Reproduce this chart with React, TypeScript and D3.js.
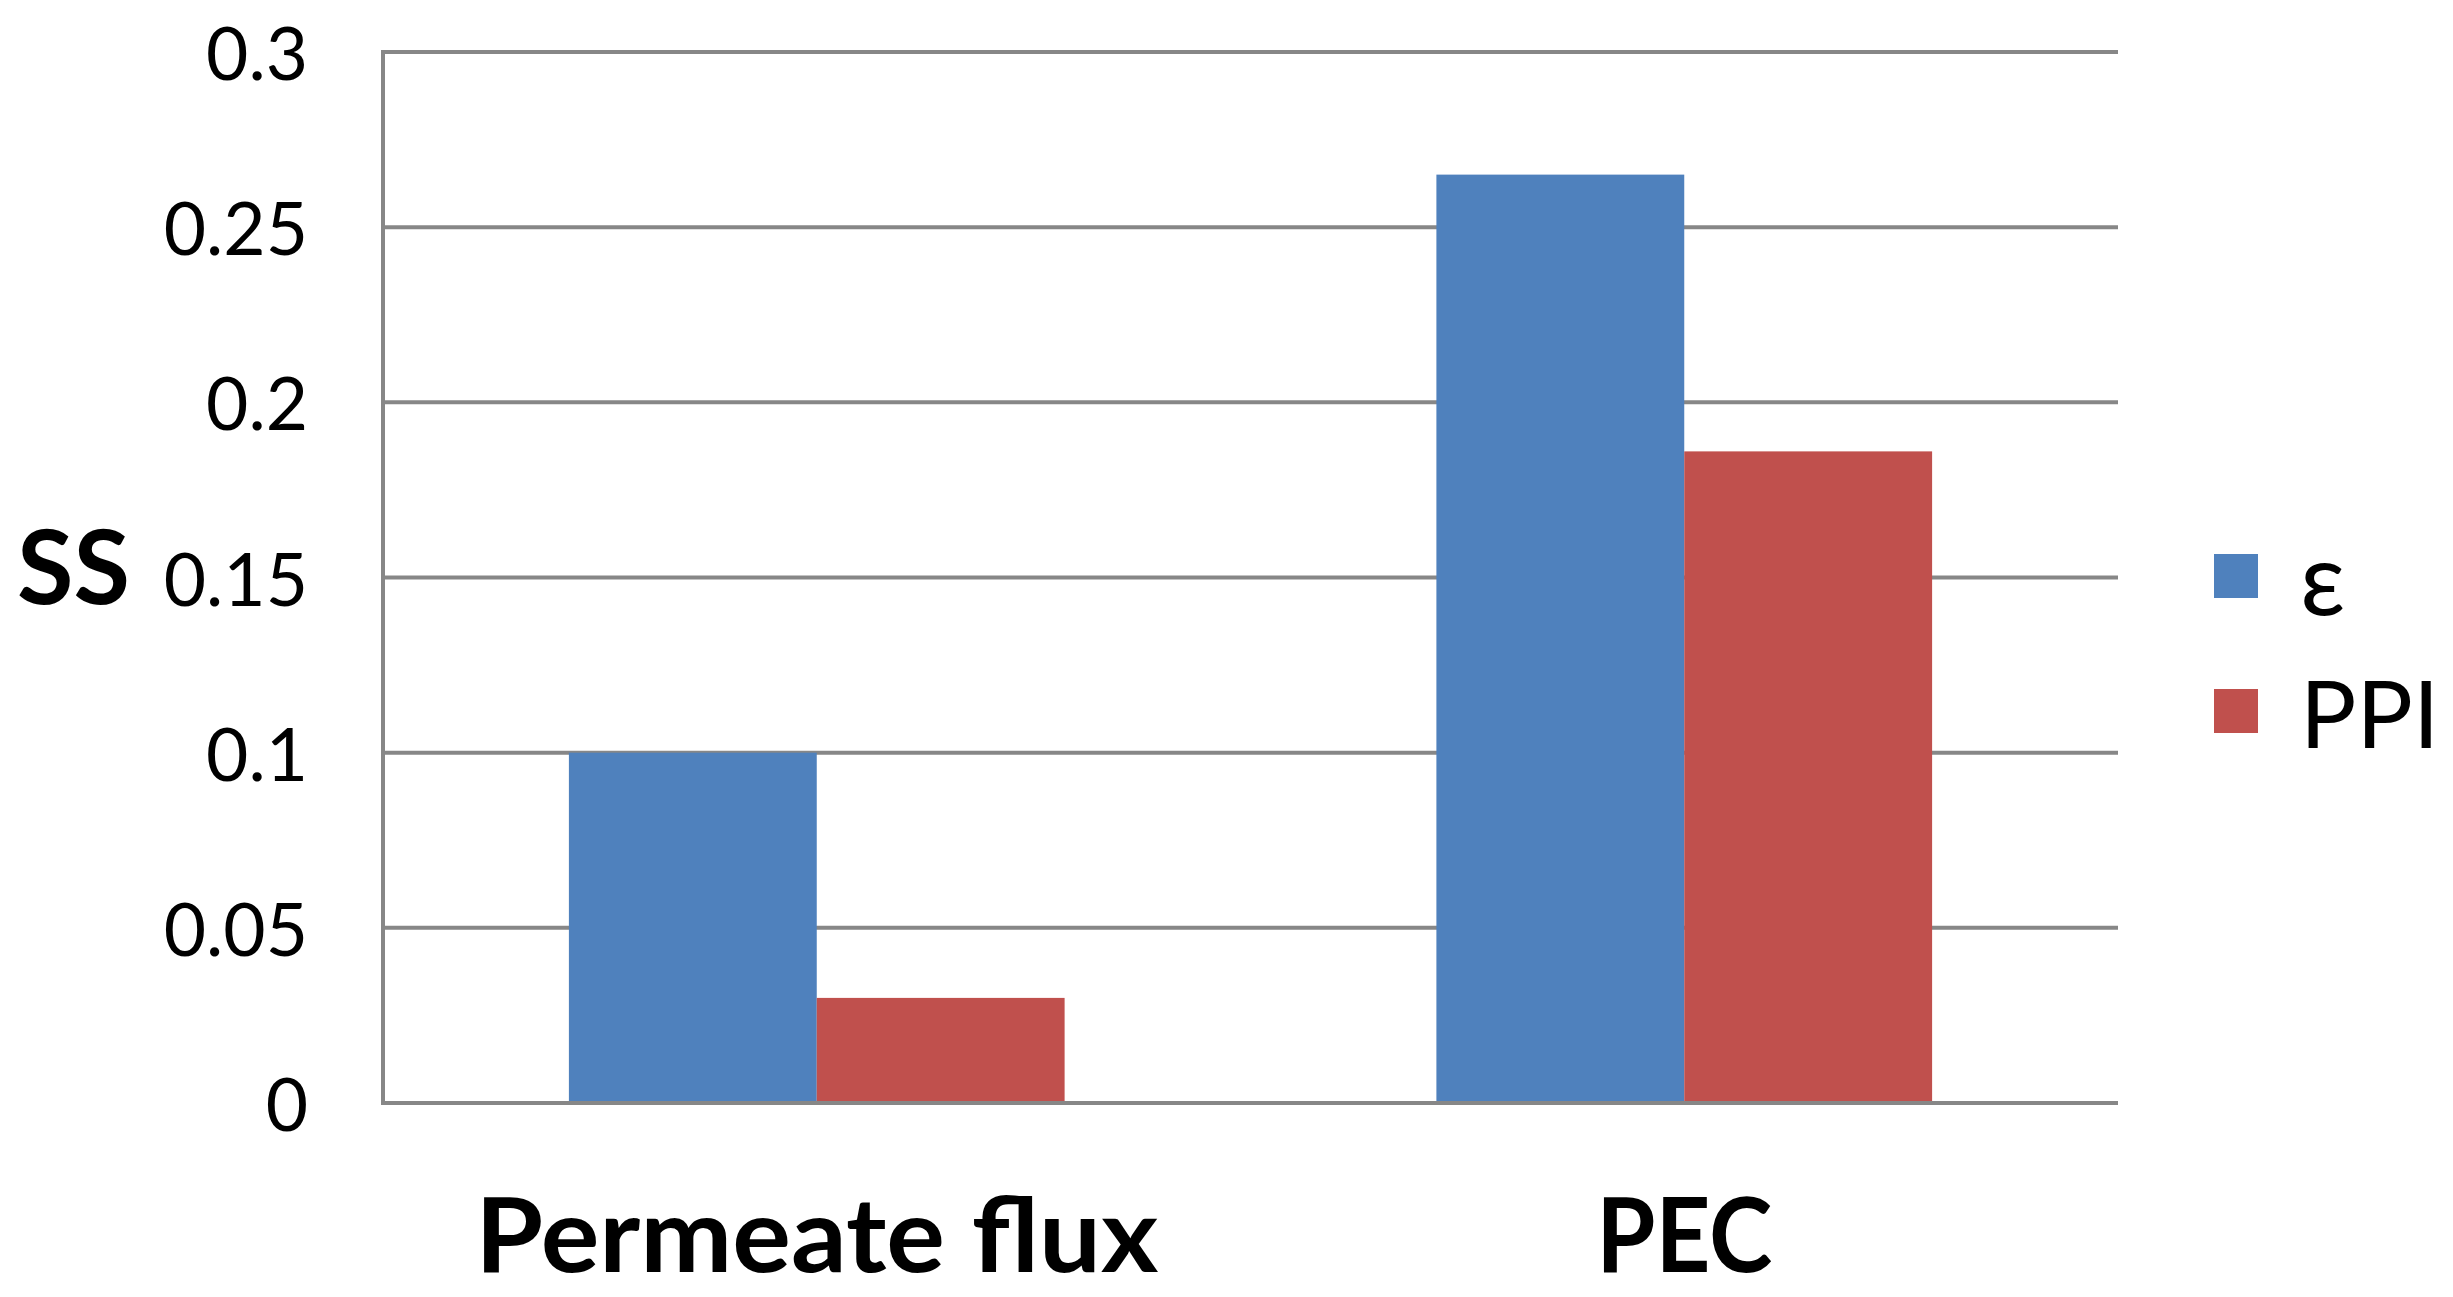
import React from "react";
import * as d3 from "d3";

const categories = ["Permeate flux", "PEC"];
const categoryLabelWidths = [683, 176];
const seriesNames = ["ε", "PPI"];
const epsilonValues = [0.1, 0.265];
const ppiValues = [0.03, 0.186];
const yTicks = [0, 0.05, 0.1, 0.15, 0.2, 0.25, 0.3];
const yTickLabels = ["0", "0.05", "0.1", "0.15", "0.2", "0.25", "0.3"];
const colors = ["#4F81BD", "#C0504D"];

const W = 2453;
const H = 1297;
const plot = { left: 383, right: 2118, top: 52, bottom: 1103 };
const FONT = "Lato, 'Open Sans', 'DejaVu Sans', sans-serif";

export default function App() {
  const y = d3.scaleLinear().domain([0, 0.3]).range([plot.bottom, plot.top]);
  const x0 = d3
    .scaleBand<string>()
    .domain(categories)
    .range([plot.left, plot.right])
    .paddingInner(1.5 / 3.5)
    .paddingOuter(0.75 / 3.5);
  const x1 = d3.scaleBand<string>().domain(seriesNames).range([0, x0.bandwidth()]).padding(0);
  const series = [epsilonValues, ppiValues];
  const grid = "#878787";

  return (
    <svg
      width={W}
      height={H}
      style={{ position: "absolute", left: 0, top: 0, background: "#fff" }}
      fontFamily={FONT}
    >
      <rect x={0} y={0} width={W} height={H} fill="#fff" />
      {yTicks.map((t, i) => (
        <g key={"g" + i}>
          <line x1={plot.left} x2={plot.right} y1={y(t)} y2={y(t)} stroke={grid} strokeWidth={4} />
          <text
            x={308}
            y={y(t)}
            textAnchor="end"
            dominantBaseline="central"
            fontSize={73}
            fill="#000"
          >
            {yTickLabels[i]}
          </text>
        </g>
      ))}
      <line x1={plot.left} x2={plot.left} y1={plot.top - 2} y2={plot.bottom + 2} stroke={grid} strokeWidth={4} />
      {categories.map((c, ci) => (
        <g key={c} transform={`translate(${x0(c)},0)`}>
          {seriesNames.map((s, si) => (
            <rect
              key={s}
              x={x1(s)}
              y={y(series[si][ci])}
              width={x1.bandwidth()}
              height={y(0) - y(series[si][ci])}
              fill={colors[si]}
            />
          ))}
        </g>
      ))}
      <line x1={plot.left} x2={plot.right} y1={y(0)} y2={y(0)} stroke={grid} strokeWidth={4} />
      {categories.map((c, ci) => (
        <text
          key={"l" + c}
          x={(x0(c) as number) + x0.bandwidth() / 2}
          y={1272}
          textAnchor="middle"
          fontWeight="bold"
          fontSize={103}
          textLength={categoryLabelWidths[ci]}
          lengthAdjust="spacingAndGlyphs"
          fill="#000"
        >
          {c}
        </text>
      ))}
      <text x={17} y={604} fontWeight="bold" fontSize={103} fill="#000">
        SS
      </text>
      {seriesNames.map((s, si) => (
        <g key={"leg" + s} transform={`translate(2214,${554 + si * 135})`}>
          <rect x={0} y={0} width={44} height={44} fill={colors[si]} />
          <text x={86} y={22} dominantBaseline="central" fontSize={si === 0 ? 100 : 94} fill="#000">
            {s}
          </text>
        </g>
      ))}
    </svg>
  );
}
